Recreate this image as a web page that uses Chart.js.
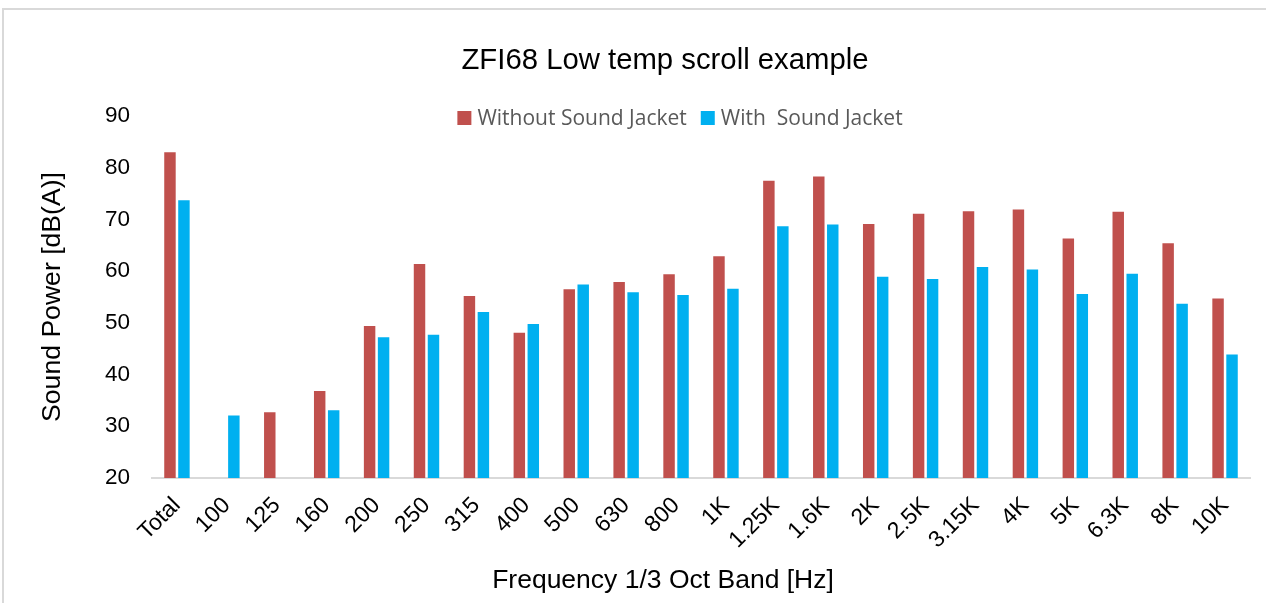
<!DOCTYPE html>
<html>
<head>
<meta charset="utf-8">
<script src="https://cdn.jsdelivr.net/npm/chart.js@4.4.1/dist/chart.umd.min.js"></script>
<style>
  html, body { margin: 0; padding: 0; background: #fff; overflow: hidden; }
  #frame { position: absolute; left: 2px; top: 8px; width: 1290px; height: 640px; border: 2px solid #d9d9d9; box-sizing: border-box; }
  #c { position: absolute; left: 0; top: 0; }
</style>
</head>
<body>
<div id="frame"></div>
<canvas id="c" width="1266" height="603"></canvas>
<script>
const categories = ['Total','100','125','160','200','250','315','400','500','630','800','1K','1.25K','1.6K','2K','2.5K','3.15K','4K','5K','6.3K','8K','10K'];
const withoutJacket = [83.0, null, 32.7, 36.8, 49.4, 61.4, 55.2, 48.1, 56.5, 57.9, 59.4, 62.9, 77.5, 78.3, 69.1, 71.1, 71.6, 71.9, 66.3, 71.5, 65.4, 54.7];
const withJacket = [73.7, 32.1, null, 33.1, 47.2, 47.7, 52.1, 49.8, 57.4, 55.9, 55.4, 56.6, 68.7, 69.0, 58.9, 58.5, 60.8, 60.3, 55.6, 59.5, 53.7, 43.9];
const seriesNames = ['Without Sound Jacket', 'With  Sound Jacket'];
const yTicks = [20, 30, 40, 50, 60, 70, 80, 90];
const chartTitle = 'ZFI68 Low temp scroll example';
const xTitle = 'Frequency 1/3 Oct Band [Hz]';
const yTitle = 'Sound Power [dB(A)]';

const FONT = "'Liberation Sans', Arial, sans-serif";

const decorPlugin = {
  id: 'decor',
  afterDraw(chart) {
    const ctx = chart.ctx;
    ctx.save();
    // title
    ctx.fillStyle = '#000';
    ctx.font = "29.3px " + FONT;
    ctx.textAlign = 'center';
    ctx.textBaseline = 'middle';
    ctx.fillText(chartTitle, 665, 61);
    // x axis title
    ctx.font = "26.5px " + FONT;
    ctx.fillText(xTitle, 663, 581);
    // legend
    ctx.font = "21px 'Open Sans', sans-serif";
    ctx.textAlign = 'left';
    const box = 14, gapBox = 6, gapItem = 14;
    const items = chart.data.datasets.map(ds => ({ label: ds.label, color: ds.backgroundColor, w: ctx.measureText(ds.label).width }));
    let total = 0;
    items.forEach((it, i) => { total += box + gapBox + it.w + (i < items.length - 1 ? gapItem : 0); });
    let x = 680 - total / 2;
    const y = 118;
    items.forEach(it => {
      ctx.fillStyle = it.color;
      ctx.fillRect(x, y - box / 2, box, box);
      x += box + gapBox;
      ctx.fillStyle = '#595959';
      ctx.fillText(it.label, x, y + 1.5);
      x += it.w + gapItem;
    });
    ctx.restore();
  }
};

new Chart(document.getElementById('c'), {
  type: 'bar',
  data: {
    labels: categories,
    datasets: [
      { label: seriesNames[0], data: withoutJacket, backgroundColor: '#C0504D', categoryPercentage: 0.56, barPercentage: 0.82 },
      { label: seriesNames[1], data: withJacket, backgroundColor: '#00B0F0', categoryPercentage: 0.56, barPercentage: 0.82 }
    ]
  },
  options: {
    responsive: false,
    animation: false,
    layout: { padding: { left: 0, right: 16, top: 116, bottom: 0 } },
    plugins: {
      legend: { display: false },
      tooltip: { enabled: false },
      title: { display: false }
    },
    scales: {
      x: {
        grid: { display: false },
        border: { display: true, color: '#d9d9d9', width: 2 },
        ticks: {
          color: '#000',
          font: { family: FONT, size: 23 },
          minRotation: 45, maxRotation: 45,
          autoSkip: false,
          padding: 6
        },
        title: { display: false },
        afterFit(scale) { scale.height = 125; }
      },
      y: {
        min: 20, max: 90,
        grid: { display: false },
        border: { display: false },
        afterBuildTicks(scale) { scale.ticks = yTicks.map(v => ({ value: v })); },
        ticks: {
          color: '#000',
          font: { family: FONT, size: 22.5 },
          padding: 14
        },
        title: {
          display: true,
          text: yTitle,
          color: '#000',
          font: { family: FONT, size: 26.6 },
          padding: { top: 37, bottom: 0 }
        },
        afterFit(scale) { scale.width = 152; }
      }
    }
  },
  plugins: [decorPlugin]
});
</script>
</body>
</html>
